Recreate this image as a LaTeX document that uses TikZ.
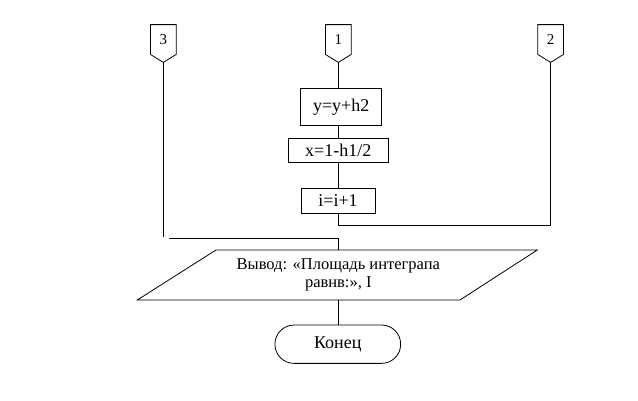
\documentclass[tikz,border=0pt]{standalone}
\usepackage{fontspec}
\setmainfont{Liberation Serif}
\usetikzlibrary{calc}
\begin{document}
\begin{tikzpicture}[x=1pt,y=-1pt,line width=0.8pt,
  font=\fontsize{18}{20}\selectfont,
  conntext/.style={minimum width=25pt,minimum height=29pt,inner sep=0pt,font=\fontsize{15}{18}\selectfont},
  stepbox/.style={draw,inner sep=0pt},
  iobox/.style={minimum height=50pt,inner sep=0pt,align=center,font=\fontsize{16.5}{18}\selectfont},
  termbox/.style={draw,rounded corners=19pt,minimum width=125.7pt,minimum height=38.3pt,inner sep=0pt}]
\useasboundingbox (0,0) rectangle (638,400);
\foreach \n/\x in {3/163.3,1/338.3,2/550.6}{
  \node[conntext] (c\n) at (\x,39.5) {\n};
  \draw (c\n.north west) -- (c\n.north east) -- (c\n.south east)
        -- ($(c\n.south)+(0,8)$) coordinate (c\n t) -- (c\n.south west) -- cycle;
}
\node[stepbox,minimum width=81pt,minimum height=36.7pt] (b1) at (341.2,106.7) {y=y+h2};
\node[stepbox,minimum width=100pt,minimum height=24.4pt] (b2) at (338.3,150.5) {x=1-h1/2};
\node[stepbox,minimum width=74pt,minimum height=25pt] (b3) at (338,200.8) {i=i+1};
\node[iobox] (out) at (338.3,274.5) {Вывод: «Площадь интеграпа\\равнв:», I};
\draw (216,250) -- (537.3,250) -- (460,300) -- (137.3,300) -- cycle;
\node[termbox] (end) at (337.8,344.2) {Конец};
\draw (c1t) -- (b1.north -| c1t);
\draw (b1.south -| c1t) -- (b2.north -| c1t);
\draw (b2.south -| c1t) -- (b3.north -| c1t);
\draw (b3.south -| c1t) -- ++(0,11.9) -| (c2t);
\coordinate (e3) at (163.3,236.7);
\draw (c3t) -- (e3);
\coordinate (j) at (169.3,238.3);
\draw (j) -| (338.3,250);
\draw (338.3,300) -- (end.north -| 338.3,0);
\end{tikzpicture}
\end{document}
